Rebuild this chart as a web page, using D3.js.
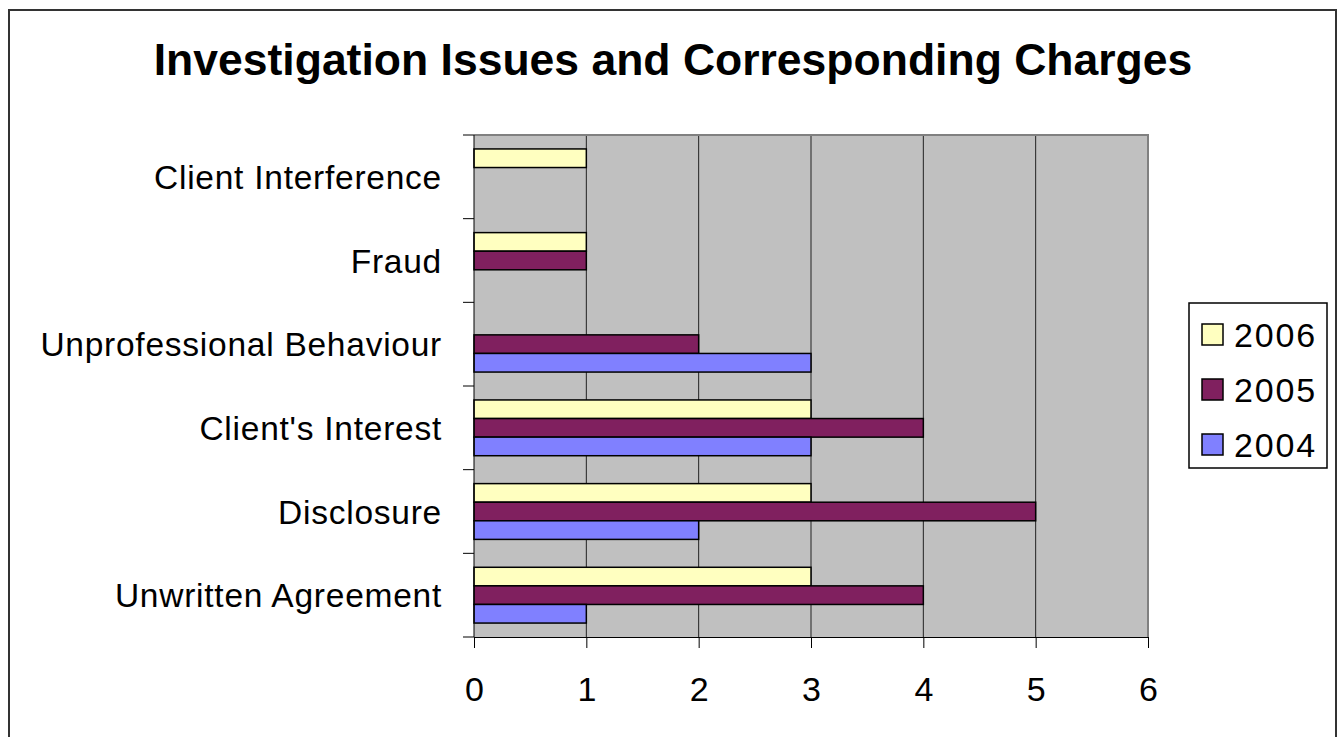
<!DOCTYPE html>
<html>
<head>
<meta charset="utf-8">
<script src="https://cdn.jsdelivr.net/npm/d3@7"></script>
<style>
  html, body { margin: 0; padding: 0; background: #fff; }
  svg { display: block; font-family: "Liberation Sans", Arial, sans-serif; }
</style>
</head>
<body>
<svg id="chart" width="1338" height="737"></svg>
<script>
// Categories listed bottom-to-top, as in the worksheet
const categories = ["Unwritten Agreement", "Disclosure", "Client's Interest",
                    "Unprofessional Behaviour", "Fraud", "Client Interference"];
const years = ["2006", "2005", "2004"];
const values2006 = [3, 3, 3, 0, 1, 1];
const values2005 = [4, 5, 4, 2, 1, 0];
const values2004 = [1, 2, 3, 3, 0, 0];
const xTicks = [0, 1, 2, 3, 4, 5, 6];
const title = "Investigation Issues and Corresponding Charges";

const seriesValues = { "2006": values2006, "2005": values2005, "2004": values2004 };
const colors = { "2006": "#FFFFC0", "2005": "#80205F", "2004": "#8080FF" };

const svg = d3.select("#chart");
const plot = { left: 474, right: 1148, top: 135, bottom: 637 };

// Outer chart frame
svg.append("rect")
  .attr("x", 9).attr("y", 10).attr("width", 1327).attr("height", 740)
  .attr("fill", "#fff").attr("stroke", "#333").attr("stroke-width", 2);

// Title
svg.append("text")
  .attr("x", 673).attr("y", 75)
  .attr("text-anchor", "middle")
  .attr("font-size", 44.5).attr("font-weight", "bold")
  .text(title);

const x = d3.scaleLinear().domain([0, 6]).range([plot.left, plot.right]);
const y = d3.scaleBand()
  .domain(categories.slice().reverse())
  .range([plot.top, plot.bottom])
  .paddingInner(0).paddingOuter(0);
const yInner = d3.scaleBand()
  .domain(years)
  .range([0, y.bandwidth()])
  .paddingInner(0).paddingOuter(0.75);

// Plot background
svg.append("rect")
  .attr("x", plot.left).attr("y", plot.top)
  .attr("width", plot.right - plot.left).attr("height", plot.bottom - plot.top)
  .attr("fill", "#C0C0C0");

// Vertical gridlines
svg.append("g").selectAll("line")
  .data(xTicks.filter(t => t > 0 && t < 6))
  .join("line")
  .attr("x1", d => x(d)).attr("x2", d => x(d))
  .attr("y1", plot.top).attr("y2", plot.bottom)
  .attr("stroke", "#222").attr("stroke-width", 1);

// Plot border (top and right)
svg.append("path")
  .attr("d", `M${plot.left},${plot.top}H${plot.right}V${plot.bottom}`)
  .attr("fill", "none").attr("stroke", "#808080").attr("stroke-width", 2);

// Bars
const barData = [];
categories.forEach((c, i) => {
  years.forEach(yr => {
    const v = seriesValues[yr][i];
    if (v > 0) barData.push({ category: c, year: yr, value: v });
  });
});
svg.append("g").selectAll("rect")
  .data(barData)
  .join("rect")
  .attr("x", x(0))
  .attr("y", d => y(d.category) + yInner(d.year))
  .attr("width", d => x(d.value) - x(0))
  .attr("height", yInner.bandwidth())
  .attr("fill", d => colors[d.year])
  .attr("stroke", "#000").attr("stroke-width", 1.5);

// X axis
const xAxis = svg.append("g")
  .attr("transform", `translate(0,${plot.bottom})`)
  .call(d3.axisBottom(x).tickValues(xTicks).tickFormat(d3.format("d"))
    .tickSize(11).tickPadding(29).tickSizeOuter(0));
xAxis.attr("font-family", null);
xAxis.select(".domain").attr("stroke", "#000");
xAxis.selectAll(".tick line").attr("stroke", "#000");
xAxis.selectAll("text").attr("font-size", 34).attr("fill", "#000");

// Y axis line and boundary ticks
svg.append("line")
  .attr("x1", plot.left).attr("x2", plot.left)
  .attr("y1", plot.top).attr("y2", plot.bottom)
  .attr("stroke", "#000");
const boundaries = categories.map(c => y(c) + y.bandwidth()).concat([y(categories[categories.length - 1])]);
svg.append("g").selectAll("line")
  .data(boundaries)
  .join("line")
  .attr("x1", plot.left - 11).attr("x2", plot.left)
  .attr("y1", d => d).attr("y2", d => d)
  .attr("stroke", "#000");

// Category labels
svg.append("g").selectAll("text")
  .data(categories)
  .join("text")
  .attr("x", 442)
  .attr("y", d => y(d) + y.bandwidth() / 2)
  .attr("dy", "0.36em")
  .attr("text-anchor", "end")
  .attr("font-size", 33.5)
  .attr("letter-spacing", 0.75)
  .text(d => d);

// Legend
const legend = svg.append("g");
legend.append("rect")
  .attr("x", 1189).attr("y", 303).attr("width", 138).attr("height", 165)
  .attr("fill", "#fff").attr("stroke", "#000").attr("stroke-width", 1.5);
const legendY = d3.scalePoint().domain(years).range([335, 445]);
const items = legend.selectAll("g.item").data(years).join("g").attr("class", "item");
items.append("rect")
  .attr("x", 1202).attr("y", d => legendY(d) - 11)
  .attr("width", 21).attr("height", 21)
  .attr("fill", d => colors[d]).attr("stroke", "#000").attr("stroke-width", 1.5);
items.append("text")
  .attr("x", 1234).attr("y", d => legendY(d))
  .attr("dy", "0.36em")
  .attr("font-size", 34)
  .attr("letter-spacing", 1.8)
  .text(d => d);
</script>
</body>
</html>
